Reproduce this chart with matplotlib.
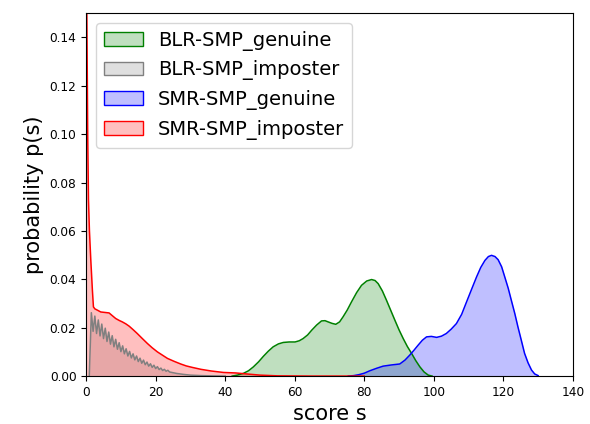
import numpy as np
from matplotlib import pyplot as plt
from matplotlib.colors import to_rgba
from matplotlib.patches import Patch

# BLR-SMP genuine (green)
blr_gen_x = [42, 43.5, 45.2, 46.7, 48.1, 49.6, 51.0, 52.4, 53.8, 55.3, 56.7,
             58.4, 60.1, 61.3, 62.4, 63.7, 64.9, 66.3, 67.7, 68.7, 69.6, 70.7,
             71.8, 72.9, 73.9, 75.1, 76.3, 77.8, 79.2, 80.7, 82.1, 83.1, 84.0,
             85.2, 86.4, 87.6, 88.8, 90.0, 91.2, 92.4, 93.6, 94.8, 96.0, 97.2,
             98.4, 99.5]
blr_gen_y = [0.0, 0.0004, 0.0011, 0.0022, 0.0038, 0.0059, 0.0082, 0.0103,
             0.0121, 0.0133, 0.0139, 0.0141, 0.0141, 0.0146, 0.0155, 0.0170,
             0.0190, 0.0211, 0.0228, 0.0229, 0.0224, 0.0218, 0.0214, 0.0224,
             0.0245, 0.0273, 0.0306, 0.0345, 0.0375, 0.0393, 0.0399, 0.0395,
             0.0382, 0.0352, 0.0313, 0.0272, 0.0231, 0.0191, 0.0155, 0.0122,
             0.0094, 0.0064, 0.0038, 0.0017, 0.0004, 0.0]

# BLR-SMP imposter (gray), zigzag from near-integer scores
blr_imp_x = [0.9, 1.5, 2, 2.5, 3, 3.5, 4, 4.5, 5, 5.5, 6, 6.5, 7, 7.5, 8, 8.5,
             9, 9.5, 10, 10.5, 11, 11.5, 12, 12.5, 13, 13.5, 14, 14.5, 15,
             15.5, 16, 16.5, 17, 17.5, 18, 18.5, 19, 19.5, 20, 20.5, 21, 21.5,
             22, 22.5, 23, 23.5, 24, 25, 26, 28, 30, 33, 36, 40]
blr_imp_y = [0.0, 0.0262, 0.0185, 0.0248, 0.0176, 0.0232, 0.0166, 0.0215,
             0.0155, 0.0198, 0.0143, 0.0182, 0.0132, 0.0167, 0.0121, 0.0152,
             0.0111, 0.0138, 0.0101, 0.0125, 0.0092, 0.0113, 0.0083, 0.0102,
             0.0075, 0.0092, 0.0067, 0.0083, 0.006, 0.0074, 0.0053, 0.0066,
             0.0047, 0.0058, 0.0041, 0.0051, 0.0036, 0.0045, 0.0031, 0.0039,
             0.0027, 0.0033, 0.0023, 0.0028, 0.002, 0.0024, 0.0017, 0.0014,
             0.0011, 0.0007, 0.0004, 0.0002, 0.0001, 0.0]

# SMR-SMP genuine (blue)
smr_gen_x = [75.4, 77, 78.5, 80, 81.6, 83.5, 85.4, 87.8, 90.2, 91.7, 93.1,
             94.3, 95.5, 96.7, 97.9, 99.3, 100.8, 102.2, 103.6, 105.0, 106.5,
             108.0, 109.4, 110.9, 112.3, 113.5, 114.7, 115.7, 116.6, 117.6,
             118.5, 119.5, 120.4, 121.4, 122.3, 123.3, 124.2, 125.2, 126.1,
             127.1, 128.1, 129.0, 130.0]
smr_gen_y = [0.0, 0.0002, 0.0006, 0.0012, 0.0022, 0.0032, 0.0041, 0.0046,
             0.0050, 0.0066, 0.0087, 0.0107, 0.0128, 0.0148, 0.0162, 0.0164,
             0.0160, 0.0165, 0.0176, 0.0194, 0.0217, 0.0255, 0.0306, 0.0360,
             0.0410, 0.0449, 0.0478, 0.0494, 0.0499, 0.0494, 0.0481, 0.0452,
             0.0410, 0.0363, 0.0313, 0.0258, 0.0203, 0.0146, 0.0094, 0.0055,
             0.0025, 0.0009, 0.0002]

# SMR-SMP imposter (red)
smr_imp_x = [0, 0.2, 0.45, 0.67, 0.95, 1.34, 1.8, 2.1, 2.5, 3.3, 4.2, 5.4,
             6.6, 7.5, 8.5, 9.5, 10.4, 11.4, 12.4, 13.5, 14.7, 16.1, 17.6,
             19.0, 20.5, 22.0, 23.4, 25.3, 27.2, 28.8, 30.5, 33, 36, 39.5, 43,
             46, 50, 55, 65, 80]
smr_imp_y = [0.4, 0.15, 0.1, 0.073, 0.06, 0.048, 0.0355, 0.0286, 0.0278,
             0.0272, 0.0265, 0.0263, 0.0261, 0.025, 0.0238, 0.023, 0.0224,
             0.0216, 0.0206, 0.0192, 0.0176, 0.0156, 0.0135, 0.0117, 0.0100,
             0.0086, 0.0073, 0.0061, 0.005, 0.0042, 0.0036, 0.0028, 0.0021,
             0.0015, 0.0013, 0.0009, 0.0004, 0.0001, 0.0, 0.0]

series = [
    ("BLR-SMP_genuine", blr_gen_x, blr_gen_y, "green"),
    ("BLR-SMP_imposter", blr_imp_x, blr_imp_y, "gray"),
    ("SMR-SMP_genuine", smr_gen_x, smr_gen_y, "blue"),
    ("SMR-SMP_imposter", smr_imp_x, smr_imp_y, "red"),
]

fig = plt.figure(figsize=(5.9, 4.24), dpi=100)
ax = fig.add_axes([0.146, 0.113, 0.825, 0.856])

handles = []
for name, xs, ys, col in series:
    ax.fill_between(xs, ys, 0, color=col, alpha=0.25, linewidth=0)
    ax.plot(xs, ys, color=col, linewidth=1.1)
    # legend patch: translucent face, solid edge
    face = list(to_rgba(col))
    face[3] = 0.25
    handles.append(Patch(facecolor=face, edgecolor=col, label=name))

ax.set_xlim(0, 140)
ax.set_ylim(0, 0.15)
ax.set_xticks(np.arange(0, 141, 20))
ax.set_yticks(np.arange(0, 0.141, 0.02))
ax.tick_params(labelsize=8.7)
ax.set_xlabel("score s", fontsize=15)
ax.set_ylabel("probability p(s)", fontsize=15)
ax.legend(handles=handles, loc="upper left", fontsize=14)

fig.savefig("out.png", dpi=100)
